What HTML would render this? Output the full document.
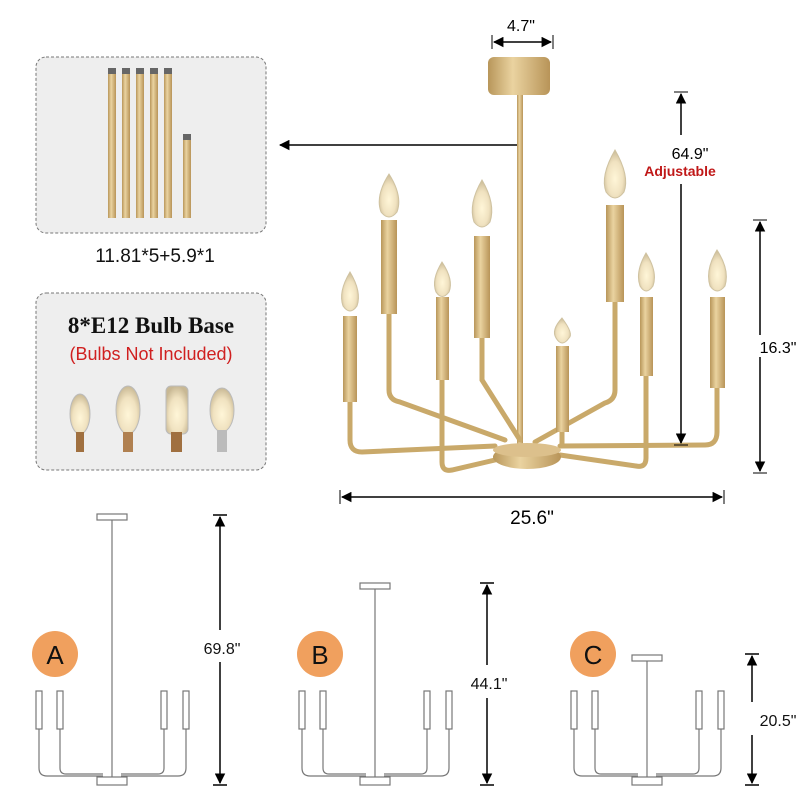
<!DOCTYPE html>
<html><head><style>
body{margin:0;background:#fff;}
svg{display:block;font-family:"Liberation Sans",sans-serif;}
</style></head><body>
<svg width="800" height="800" viewBox="0 0 800 800" xmlns="http://www.w3.org/2000/svg">
<defs>
<linearGradient id="g" x1="0" x2="1" y1="0" y2="0">
<stop offset="0" stop-color="#b8965a"/><stop offset="0.4" stop-color="#ead3a0"/><stop offset="1" stop-color="#b89458"/>
</linearGradient>
<radialGradient id="b" cx="0.5" cy="0.6" r="0.6">
<stop offset="0" stop-color="#fff6d8"/><stop offset="0.6" stop-color="#f0e2c0"/><stop offset="1" stop-color="#c8b894"/>
</radialGradient>
<marker id="ar" viewBox="0 0 10 10" refX="9" refY="5" markerWidth="7" markerHeight="7" orient="auto-start-reverse"><path d="M0,0L10,5L0,10z" fill="#000"/></marker>
</defs>

<!-- box 1 -->
<rect x="36" y="57" width="230" height="176" rx="10" fill="#eeeeee" stroke="#777" stroke-dasharray="3,2"/>
<g fill="url(#g)">
<rect x="108" y="72" width="8" height="146"/><rect x="122" y="72" width="8" height="146"/><rect x="136" y="72" width="8" height="146"/><rect x="150" y="72" width="8" height="146"/><rect x="164" y="72" width="8" height="146"/><rect x="183" y="138" width="8" height="80"/>
</g>
<g fill="#666"><rect x="108" y="68" width="8" height="6"/><rect x="122" y="68" width="8" height="6"/><rect x="136" y="68" width="8" height="6"/><rect x="150" y="68" width="8" height="6"/><rect x="164" y="68" width="8" height="6"/><rect x="183" y="134" width="8" height="6"/></g>
<text x="155" y="262" font-size="19" text-anchor="middle" fill="#111">11.81*5+5.9*1</text>

<!-- box 2 -->
<rect x="36" y="293" width="230" height="177" rx="10" fill="#eeeeee" stroke="#777" stroke-dasharray="3,2"/>
<text x="151" y="333" font-size="23" font-weight="bold" text-anchor="middle" font-family="Liberation Serif,serif" fill="#111">8*E12 Bulb Base</text>
<text x="151" y="360" font-size="18" text-anchor="middle" fill="#d02020">(Bulbs Not Included)</text>
<g>
<ellipse cx="80" cy="414" rx="10" ry="20" fill="url(#b)" stroke="#bbb"/><rect x="76" y="432" width="8" height="20" fill="#a07040"/>
<ellipse cx="128" cy="410" rx="12" ry="24" fill="url(#b)" stroke="#bbb"/><rect x="123" y="432" width="10" height="20" fill="#b08050"/>
<rect x="166" y="386" width="22" height="48" rx="5" fill="url(#b)" stroke="#bbb"/><rect x="171" y="432" width="11" height="20" fill="#a07040"/>
<ellipse cx="222" cy="410" rx="12" ry="22" fill="url(#b)" stroke="#bbb"/><rect x="217" y="430" width="10" height="22" fill="#bbb"/>
</g>

<!-- arrow to box -->
<line x1="520" y1="145" x2="280" y2="145" stroke="#000" stroke-width="1.5" marker-end="url(#ar)"/>

<!-- chandelier -->
<rect x="488" y="57" width="62" height="38" rx="6" fill="url(#g)"/>
<rect x="517" y="95" width="6" height="355" fill="url(#g)"/>
<g fill="none" stroke="#c9a96a" stroke-width="5" stroke-linecap="round">
<path d="M350,402 V440 Q350,452 362,452 L495,446"/>
<path d="M389,314 V390 Q389,400 400,402 L505,440"/>
<path d="M442,380 V462 Q442,472 452,470 L495,460"/>
<path d="M482,338 V380 L520,440"/>
<path d="M562,432 V444"/>
<path d="M615,302 V390 Q615,400 605,403 L535,442"/>
<path d="M646,376 V458 Q646,468 636,466 L560,455"/>
<path d="M717,388 V432 Q717,445 705,445 L560,446"/>
</g>
<ellipse cx="527" cy="457" rx="34" ry="12" fill="url(#g)"/>
<ellipse cx="527" cy="450" rx="34" ry="7" fill="#dcc08c"/>
<g fill="url(#g)">
<rect x="343" y="316" width="14" height="86"/><rect x="381" y="220" width="16" height="94"/><rect x="436" y="297" width="13" height="83"/><rect x="474" y="236" width="16" height="102"/><rect x="556" y="346" width="13" height="86"/><rect x="606" y="205" width="18" height="97"/><rect x="640" y="297" width="13" height="79"/><rect x="710" y="297" width="15" height="91"/>
</g>
<g fill="url(#b)" stroke="#cfc2a0">
<path d="M350,272 Q362,292 357,306 Q350,316 343,306 Q338,292 350,272z"/>
<path d="M389,174 Q403,196 397,212 Q389,222 381,212 Q375,196 389,174z"/>
<path d="M442,262 Q454,280 449,292 Q442,301 436,292 Q431,280 442,262z"/>
<path d="M482,180 Q496,204 490,222 Q482,232 474,222 Q468,204 482,180z"/>
<path d="M562,318 Q574,334 569,338 Q562,348 556,338 Q551,330 562,318z"/>
<path d="M615,150 Q630,176 624,192 Q615,204 606,192 Q600,176 615,150z"/>
<path d="M646,253 Q658,272 653,286 Q646,296 640,286 Q635,272 646,253z"/>
<path d="M717,250 Q730,270 725,286 Q717,296 710,286 Q705,270 717,250z"/>
</g>

<!-- dimensions -->
<line x1="494" y1="42" x2="551" y2="42" stroke="#000" stroke-width="1.5" marker-start="url(#ar)" marker-end="url(#ar)"/>
<line x1="492" y1="35" x2="492" y2="49" stroke="#000"/><line x1="553" y1="35" x2="553" y2="49" stroke="#000"/>
<text x="521" y="31" font-size="16" text-anchor="middle">4.7"</text>
<line x1="681" y1="94" x2="681" y2="135" stroke="#000" stroke-width="1.5" marker-start="url(#ar)"/>
<line x1="674" y1="92" x2="688" y2="92" stroke="#000"/>
<text x="690" y="159" font-size="16" text-anchor="middle">64.9"</text>
<text x="680" y="176" font-size="14" font-weight="bold" text-anchor="middle" fill="#c01818">Adjustable</text>
<line x1="681" y1="184" x2="681" y2="443" stroke="#000" stroke-width="1.5" marker-end="url(#ar)"/>
<line x1="674" y1="445" x2="688" y2="445" stroke="#000"/>
<line x1="760" y1="222" x2="760" y2="471" stroke="#000" stroke-width="1.5" marker-start="url(#ar)" marker-end="url(#ar)"/>
<line x1="753" y1="220" x2="767" y2="220" stroke="#000"/><line x1="753" y1="473" x2="767" y2="473" stroke="#000"/>
<rect x="752" y="335" width="48" height="22" fill="#fff"/>
<text x="778" y="353" font-size="16" text-anchor="middle">16.3"</text>
<line x1="342" y1="497" x2="722" y2="497" stroke="#000" stroke-width="1.5" marker-start="url(#ar)" marker-end="url(#ar)"/>
<line x1="340" y1="490" x2="340" y2="504" stroke="#000"/><line x1="724" y1="490" x2="724" y2="504" stroke="#000"/>
<text x="532" y="524" font-size="19" text-anchor="middle">25.6"</text>

<!-- sketches -->
<g fill="none" stroke="#777" stroke-width="1.2">
<!-- A -->
<rect x="97" y="514" width="30" height="6"/><line x1="112" y1="520" x2="112" y2="777"/>
<rect x="36" y="691" width="6" height="38"/><rect x="57" y="691" width="6" height="38"/><rect x="161" y="691" width="6" height="38"/><rect x="183" y="691" width="6" height="38"/>
<path d="M39,729V768Q39,776 47,776H103M60,729V768Q60,774 66,774H103M164,729V768Q164,774 158,774H121M186,729V768Q186,776 178,776H121"/>
<rect x="97" y="777" width="30" height="8"/>
<!-- B -->
<rect x="360" y="583" width="30" height="6"/><line x1="375" y1="589" x2="375" y2="777"/>
<rect x="299" y="691" width="6" height="38"/><rect x="320" y="691" width="6" height="38"/><rect x="424" y="691" width="6" height="38"/><rect x="446" y="691" width="6" height="38"/>
<path d="M302,729V768Q302,776 310,776H366M323,729V768Q323,774 329,774H366M427,729V768Q427,774 421,774H384M449,729V768Q449,776 441,776H384"/>
<rect x="360" y="777" width="30" height="8"/>
<!-- C -->
<rect x="632" y="655" width="30" height="6"/><line x1="647" y1="661" x2="647" y2="777"/>
<rect x="571" y="691" width="6" height="38"/><rect x="592" y="691" width="6" height="38"/><rect x="696" y="691" width="6" height="38"/><rect x="718" y="691" width="6" height="38"/>
<path d="M574,729V768Q574,776 582,776H638M595,729V768Q595,774 601,774H638M699,729V768Q699,774 693,774H656M721,729V768Q721,776 713,776H656"/>
<rect x="632" y="777" width="30" height="8"/>
</g>
<g fill="#f0a05e"><circle cx="55" cy="654" r="23"/><circle cx="320" cy="654" r="23"/><circle cx="593" cy="654" r="23"/></g>
<g font-size="26" text-anchor="middle" fill="#111"><text x="55" y="664">A</text><text x="320" y="664">B</text><text x="593" y="664">C</text></g>

<g stroke="#000" stroke-width="1.5">
<line x1="220" y1="517" x2="220" y2="630" marker-start="url(#ar)"/><line x1="220" y1="662" x2="220" y2="783" marker-end="url(#ar)"/>
<line x1="213" y1="515" x2="227" y2="515"/><line x1="213" y1="785" x2="227" y2="785"/>
<line x1="487" y1="585" x2="487" y2="665" marker-start="url(#ar)"/><line x1="487" y1="698" x2="487" y2="783" marker-end="url(#ar)"/>
<line x1="480" y1="583" x2="494" y2="583"/><line x1="480" y1="785" x2="494" y2="785"/>
<line x1="752" y1="656" x2="752" y2="702" marker-start="url(#ar)"/><line x1="752" y1="735" x2="752" y2="783" marker-end="url(#ar)"/>
<line x1="745" y1="654" x2="759" y2="654"/><line x1="745" y1="785" x2="759" y2="785"/>
</g>
<g font-size="16" text-anchor="middle" fill="#111"><text x="222" y="654">69.8"</text><text x="489" y="689">44.1"</text><text x="778" y="726">20.5"</text></g>
</svg>
</body></html>
